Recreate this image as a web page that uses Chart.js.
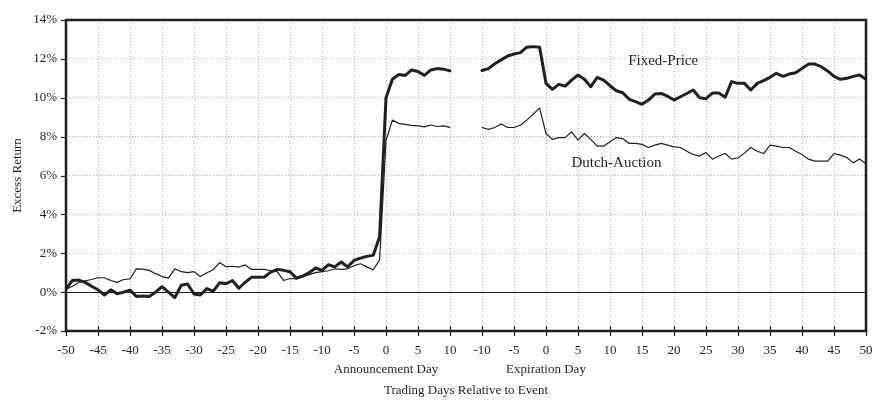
<!DOCTYPE html>
<html>
<head>
<meta charset="utf-8">
<script src="https://cdn.jsdelivr.net/npm/chart.js@4.4.0/dist/chart.umd.min.js"></script>
<style>
  html, body { margin: 0; padding: 0; background: #fff; }
  #wrap { width: 874px; height: 401px; }
</style>
</head>
<body>
<div id="wrap"><canvas id="chart" width="874" height="401"></canvas></div>
<script>
// Excess return (%) by trading day, Announcement window: days -50..10
const annFixed = [0.15,0.6,0.62,0.5,0.3,0.12,-0.15,0.12,-0.08,0.0,
  0.1,-0.22,-0.2,-0.22,0.0,0.28,0.0,-0.28,0.35,0.42,
  -0.1,-0.15,0.18,0.05,0.48,0.43,0.6,0.2,0.5,0.77,
  0.77,0.78,1.03,1.17,1.12,1.05,0.72,0.83,1.0,1.24,
  1.12,1.41,1.3,1.55,1.3,1.63,1.75,1.84,1.89,2.85,
  10.0,10.95,11.2,11.15,11.43,11.35,11.15,11.43,11.5,11.47,11.38];
const annDutch = [0.15,0.3,0.5,0.58,0.65,0.74,0.74,0.6,0.5,0.65,
  0.68,1.2,1.18,1.12,0.95,0.8,0.72,1.2,1.05,1.0,
  1.05,0.8,1.0,1.15,1.52,1.3,1.33,1.29,1.4,1.17,
  1.17,1.17,1.1,1.05,0.6,0.7,0.68,0.8,0.9,1.0,
  1.05,1.1,1.2,1.17,1.2,1.36,1.46,1.3,1.15,1.65,
  7.8,8.85,8.68,8.63,8.58,8.55,8.5,8.6,8.52,8.55,8.48];

// Expiration window: days -10..50
const expFixed = [11.4,11.5,11.75,11.95,12.15,12.25,12.32,12.6,12.63,12.6,
  10.75,10.43,10.69,10.6,10.91,11.17,10.95,10.57,11.05,10.91,
  10.62,10.36,10.26,9.92,9.8,9.66,9.88,10.19,10.22,10.08,
  9.88,10.05,10.22,10.4,10.0,9.95,10.24,10.24,10.03,10.83,
  10.74,10.74,10.4,10.74,10.88,11.05,11.26,11.1,11.22,11.29,
  11.5,11.73,11.73,11.6,11.38,11.1,10.95,11.0,11.1,11.17,10.95];
const expDutch = [8.47,8.37,8.47,8.65,8.47,8.47,8.6,8.85,9.16,9.48,
  8.16,7.86,7.95,7.95,8.25,7.82,8.16,7.86,7.51,7.51,
  7.73,7.95,7.9,7.65,7.65,7.6,7.44,7.56,7.65,7.56,
  7.47,7.44,7.25,7.08,7.0,7.18,6.84,7.0,7.13,6.84,
  6.9,7.15,7.44,7.25,7.13,7.56,7.51,7.44,7.44,7.25,
  7.08,6.84,6.74,6.74,6.74,7.13,7.05,6.93,6.65,6.85,6.6];

const annStart = -50;   // first day of announcement window
const expStart = -10;   // first day of expiration window
const annOffset = 50;   // x position = day + offset
const expOffset = 75;   // 5-day gap between the two windows

const seriesLabels = ['Fixed-Price', 'Dutch-Auction'];
const windowLabels = ['Announcement Day', 'Expiration Day'];
const xTitle = 'Trading Days Relative to Event';
const yTitle = 'Excess Return';

const INK = '#231f20';
const FONT = "'Liberation Serif', 'Times New Roman', serif";

function toPoints(values, start, offset) {
  return values.map((v, i) => ({ x: start + i + offset, y: v }));
}

function dayLabel(pos) {
  if (pos <= 60) return String(pos - annOffset);
  return String(pos - expOffset);
}

const lineStyle = (w) => ({
  borderColor: INK, borderWidth: w, pointRadius: 0, tension: 0,
  borderJoinStyle: 'round', borderCapStyle: 'round', fill: false
});

// frame, zero line, tick marks and text annotations
const decorPlugin = {
  id: 'decor',
  beforeDatasetsDraw(chart) {
    const { ctx, chartArea: a, scales: { y } } = chart;
    ctx.save();
    ctx.strokeStyle = INK;
    ctx.lineWidth = 1.2;
    const y0 = Math.round(y.getPixelForValue(0)) + 0.5;
    ctx.beginPath(); ctx.moveTo(a.left, y0); ctx.lineTo(a.right, y0); ctx.stroke();
    ctx.restore();
  },
  afterDraw(chart) {
    const { ctx, chartArea: a, scales: { x, y } } = chart;
    ctx.save();
    ctx.strokeStyle = INK;
    ctx.lineWidth = 2.5;
    ctx.strokeRect(a.left, a.top, a.right - a.left, a.bottom - a.top);
    ctx.lineWidth = 1.2;
    x.ticks.forEach(t => {
      const px = Math.round(x.getPixelForValue(t.value)) + 0.5;
      ctx.beginPath(); ctx.moveTo(px, a.bottom - 5); ctx.lineTo(px, a.bottom + 5); ctx.stroke();
    });
    y.ticks.forEach(t => {
      const py = Math.round(y.getPixelForValue(t.value)) + 0.5;
      ctx.beginPath(); ctx.moveTo(a.left - 5, py); ctx.lineTo(a.left, py); ctx.stroke();
    });

    ctx.fillStyle = INK;
    ctx.textAlign = 'center';
    ctx.textBaseline = 'middle';
    ctx.font = '13px ' + FONT;
    ctx.fillText(windowLabels[0], x.getPixelForValue(annOffset), 370);
    ctx.fillText(windowLabels[1], x.getPixelForValue(expOffset), 370);

    ctx.font = '15px ' + FONT;
    ctx.fillText(seriesLabels[0], x.getPixelForValue(18.3 + expOffset), y.getPixelForValue(11.9));
    ctx.fillText(seriesLabels[1], x.getPixelForValue(11 + expOffset), y.getPixelForValue(6.62));
    ctx.restore();
  }
};

const ctx = document.getElementById('chart').getContext('2d');
new Chart(ctx, {
  type: 'line',
  data: {
    datasets: [
      Object.assign({ label: seriesLabels[0], data: toPoints(annFixed, annStart, annOffset) }, lineStyle(3)),
      Object.assign({ label: seriesLabels[0], data: toPoints(expFixed, expStart, expOffset) }, lineStyle(3)),
      Object.assign({ label: seriesLabels[1], data: toPoints(annDutch, annStart, annOffset) }, lineStyle(1.2)),
      Object.assign({ label: seriesLabels[1], data: toPoints(expDutch, expStart, expOffset) }, lineStyle(1.2))
    ]
  },
  options: {
    responsive: false,
    animation: false,
    layout: { padding: { left: 0, right: 8, top: 20, bottom: 0 } },
    plugins: { legend: { display: false }, tooltip: { enabled: false } },
    scales: {
      x: {
        type: 'linear',
        min: 0, max: 125,
        afterFit: s => { s.height = 70; s.paddingLeft = 0; s.paddingRight = 0; },
        ticks: {
          stepSize: 5, autoSkip: false, maxRotation: 0, padding: 12,
          color: INK, font: { family: FONT, size: 13 },
          callback: v => dayLabel(v)
        },
        grid: { color: '#b5b5b5', lineWidth: 1, drawTicks: false },
        border: { display: false, dash: [1, 2] },
        title: {
          display: true, text: xTitle, color: INK,
          font: { family: FONT, size: 13 }, padding: { top: 0, bottom: 3 }
        }
      },
      y: {
        min: -2, max: 14,
        afterFit: s => { s.width = 66; s.paddingTop = 0; s.paddingBottom = 0; },
        ticks: {
          stepSize: 2, padding: 9, color: INK,
          font: { family: FONT, size: 13 },
          callback: v => v + '%'
        },
        grid: { color: '#b5b5b5', lineWidth: 1, drawTicks: false },
        border: { display: false, dash: [1, 2] },
        title: {
          display: true, text: yTitle, color: INK,
          font: { family: FONT, size: 13 }, padding: { top: 10, bottom: 0 }
        }
      }
    }
  },
  plugins: [decorPlugin]
});
</script>
</body>
</html>
